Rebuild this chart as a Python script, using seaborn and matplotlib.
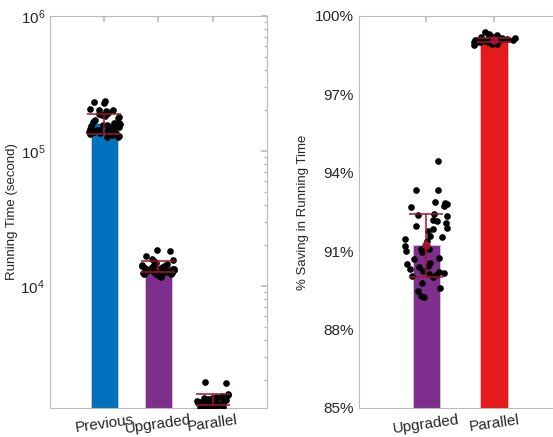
import matplotlib
matplotlib.use('Agg')
import matplotlib.pyplot as plt
import seaborn as sns
import pandas as pd
from matplotlib.ticker import LogLocator, NullFormatter, FuncFormatter

sns.set_theme(style='white')
plt.rcParams['font.family'] = ['Liberation Sans', 'DejaVu Sans']

# running time in seconds for each run
cats_time = ['Previous', 'Upgraded', 'Parallel']
prev_time = [235000, 228000, 232000, 205000, 200000, 198000, 202000, 195000, 190000, 188000,
             185000, 182000, 178000, 175000, 170000, 168000, 165000, 162000, 160000, 158000,
             157000, 155000, 154000, 152000, 150000, 149000, 148000, 147000, 146000, 145000,
             144000, 143000, 142000, 141000, 140000, 139000, 138000, 137000, 136000, 135000,
             134000, 132000, 130000, 128000, 127000]
upg_time = [18600, 18200, 16800, 15900, 15600, 15200, 14800, 14600, 14400, 14200, 14100, 14000,
            13900, 13800, 13700, 13600, 13500, 13400, 13300, 13300, 13200, 13100, 13000, 13000,
            12900, 12800, 12800, 12700, 12600, 12600, 12500, 12500, 12400, 12400, 12300, 12300,
            12200, 12100, 12000, 11900, 11800, 11700]
par_time = [1950, 1900, 1580, 1560, 1540, 1520, 1500, 1480, 1470, 1460, 1450, 1440, 1430, 1420,
            1410, 1400, 1390, 1380, 1370, 1360, 1350, 1340, 1330, 1320, 1310, 1300, 1290, 1280,
            1270, 1260, 1250, 1245, 1240]
time_mean = [160000, 14000, 1450]
time_sd = [27000, 1400, 130]

# % saving in running time
cats_save = ['Upgraded', 'Parallel']
upg_save = [94.47, 93.33, 93.33, 92.87, 92.85, 92.79, 92.72, 92.70, 92.43, 92.40, 92.34, 92.19,
            92.15, 92.09, 91.95, 91.90, 91.85, 91.77, 91.60, 91.55, 91.45, 91.40, 91.19, 91.10,
            91.07, 91.00, 90.95, 90.75, 90.70, 90.56, 90.50, 90.43, 90.40, 90.31, 90.25, 90.20,
            90.15, 90.11, 90.08, 90.05, 90.02, 89.80, 89.61, 89.48, 89.29, 89.25]
par_save = [99.38, 99.30, 99.28, 99.25, 99.22, 99.20, 99.18, 99.16, 99.15, 99.14, 99.13, 99.12,
            99.11, 99.10, 99.10, 99.09, 99.08, 99.08, 99.07, 99.06, 99.05, 99.05, 99.04, 99.03,
            99.02, 99.01, 99.00, 98.99, 98.98, 98.97, 98.96, 98.95, 98.93, 98.92, 98.90]
save_mean = [91.22, 99.08]
save_sd = [1.2, 0.08]

colors_time = ['#0072BD', '#7E2F8E', '#E41A1C']
colors_save = ['#7E2F8E', '#E41A1C']
err_color = '#A2142F'
axis_grey = '#BBBBBB'
text_grey = '#262626'

df_time = pd.DataFrame({'cat': ['Previous'] * len(prev_time) + ['Upgraded'] * len(upg_time)
                        + ['Parallel'] * len(par_time),
                        'val': prev_time + upg_time + par_time})
df_save = pd.DataFrame({'cat': ['Upgraded'] * len(upg_save) + ['Parallel'] * len(par_save),
                        'val': upg_save + par_save})

fig = plt.figure(figsize=(5.53, 4.37), dpi=100)
ax1 = fig.add_axes([0.0904, 0.0664, 0.392, 0.897])
ax2 = fig.add_axes([0.6486, 0.0664, 0.367, 0.897])


def style_axis(ax):
    for s in ax.spines.values():
        s.set_color(axis_grey)
        s.set_linewidth(0.8)
    ax.tick_params(which='both', direction='in', top=True, right=True,
                   color=axis_grey, labelcolor=text_grey, labelsize=11)
    ax.tick_params(which='major', length=4)
    ax.tick_params(which='minor', length=2.5)
    for lab in ax.get_xticklabels():
        lab.set_rotation(8)
        lab.set_fontsize(11)


# left: running time (log)
ax1.set_yscale('log')
sns.barplot(x=cats_time, y=time_mean, hue=cats_time, palette=colors_time, width=0.5,
            saturation=1, errorbar=None, legend=False, ax=ax1, edgecolor='#CCCCCC', linewidth=0.6)
sns.stripplot(data=df_time, x='cat', y='val', order=cats_time, color='black', size=4.8,
              jitter=0.3, ax=ax1, zorder=3)
ax1.errorbar(range(3), time_mean, yerr=time_sd, fmt='none', ecolor=err_color,
             elinewidth=1.1, capsize=12, capthick=1.1, zorder=4)
ax1.set_ylim(1250, 1e6)
ax1.set_xlim(-1, 3)
ax1.yaxis.set_major_locator(LogLocator(base=10, numticks=10))
ax1.yaxis.set_minor_locator(LogLocator(base=10, subs=range(2, 10), numticks=20))
ax1.yaxis.set_minor_formatter(NullFormatter())
ax1.set_xlabel('')
ax1.set_ylabel('Running Time (second)', fontsize=9.5, color=text_grey, labelpad=2)
style_axis(ax1)

# right: % saving
sns.barplot(x=cats_save, y=save_mean, hue=cats_save, palette=colors_save, width=0.4,
            saturation=1, errorbar=None, legend=False, ax=ax2, edgecolor='#CCCCCC', linewidth=0.6)
sns.stripplot(data=df_save, x='cat', y='val', order=cats_save, color='black', size=4.8,
              jitter=0.32, ax=ax2, zorder=3)
ax2.errorbar(range(2), save_mean, yerr=save_sd, fmt='o', color=err_color, ecolor=err_color,
             markersize=5, elinewidth=1.1, capsize=12, capthick=1.1, zorder=4)
ax2.set_ylim(85, 100)
ax2.set_xlim(-1, 2)
ax2.set_yticks([85, 88, 91, 94, 97, 100])
ax2.yaxis.set_major_formatter(FuncFormatter(lambda v, p: f'{v:.0f}%'))
ax2.set_xlabel('')
ax2.set_ylabel('% Saving in Running Time', fontsize=9.5, color=text_grey, labelpad=4)
style_axis(ax2)

fig.savefig('out.png', dpi=100)
